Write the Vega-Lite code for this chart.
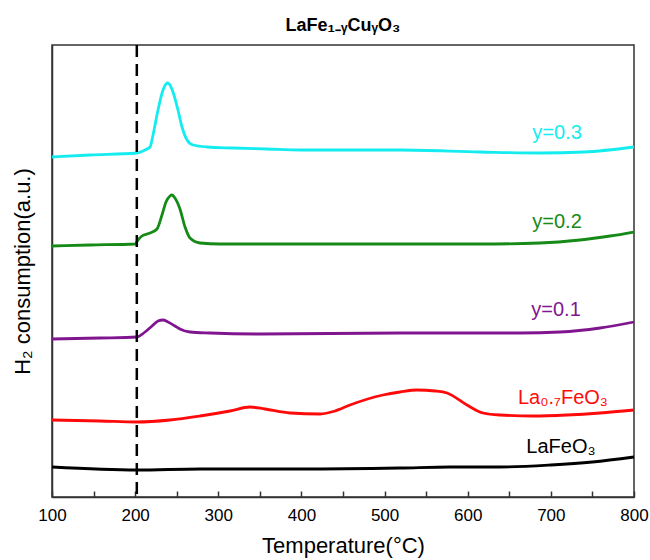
{
  "$schema": "https://vega.github.io/schema/vega-lite/v6.json",
  "width": 582,
  "height": 452,
  "autosize": {"type": "none"},
  "padding": {"left": 52, "top": 45, "right": 16, "bottom": 63},
  "title": {"text": "LaFe₁₋ᵧCuᵧO₃", "font": "Liberation Sans", "fontSize": 18, "fontWeight": "bold", "color": "#000", "offset": 9, "anchor": "middle"},
  "config": {
    "view": {"stroke": "#333", "strokeWidth": 1.5},
    "axis": {"grid": false, "labelFont": "Liberation Sans", "titleFont": "Liberation Sans", "labelColor": "#000", "titleColor": "#000", "domainColor": "#333", "domainWidth": 1.5, "tickColor": "#333", "tickWidth": 1.5, "titleFontWeight": "normal"}
  },
  "datasets": {
    "curves": [
      {"sample": "y=0.3", "temperature": 100, "signal": 340},
      {"sample": "y=0.3", "temperature": 145.7, "signal": 342},
      {"sample": "y=0.3", "temperature": 202.2, "signal": 344},
      {"sample": "y=0.3", "temperature": 211.9, "signal": 347},
      {"sample": "y=0.3", "temperature": 217.9, "signal": 350},
      {"sample": "y=0.3", "temperature": 221.5, "signal": 362},
      {"sample": "y=0.3", "temperature": 227.5, "signal": 387},
      {"sample": "y=0.3", "temperature": 233.5, "signal": 407},
      {"sample": "y=0.3", "temperature": 237.1, "signal": 413},
      {"sample": "y=0.3", "temperature": 239.5, "signal": 414},
      {"sample": "y=0.3", "temperature": 241.9, "signal": 412},
      {"sample": "y=0.3", "temperature": 245.5, "signal": 405},
      {"sample": "y=0.3", "temperature": 251.5, "signal": 387},
      {"sample": "y=0.3", "temperature": 256.4, "signal": 370},
      {"sample": "y=0.3", "temperature": 262.4, "signal": 357},
      {"sample": "y=0.3", "temperature": 269.6, "signal": 352},
      {"sample": "y=0.3", "temperature": 286.4, "signal": 350},
      {"sample": "y=0.3", "temperature": 317.7, "signal": 349},
      {"sample": "y=0.3", "temperature": 358.6, "signal": 348},
      {"sample": "y=0.3", "temperature": 398.3, "signal": 347},
      {"sample": "y=0.3", "temperature": 518.6, "signal": 347},
      {"sample": "y=0.3", "temperature": 614.8, "signal": 345},
      {"sample": "y=0.3", "temperature": 686.9, "signal": 344},
      {"sample": "y=0.3", "temperature": 740.0, "signal": 345},
      {"sample": "y=0.3", "temperature": 800, "signal": 350},

      {"sample": "y=0.2", "temperature": 100, "signal": 251},
      {"sample": "y=0.2", "temperature": 145.7, "signal": 252},
      {"sample": "y=0.2", "temperature": 199.8, "signal": 253},
      {"sample": "y=0.2", "temperature": 203.4, "signal": 257},
      {"sample": "y=0.2", "temperature": 208.2, "signal": 261},
      {"sample": "y=0.2", "temperature": 217.9, "signal": 264},
      {"sample": "y=0.2", "temperature": 226.3, "signal": 268},
      {"sample": "y=0.2", "temperature": 232.3, "signal": 282},
      {"sample": "y=0.2", "temperature": 237.1, "signal": 295},
      {"sample": "y=0.2", "temperature": 241.9, "signal": 301},
      {"sample": "y=0.2", "temperature": 244.3, "signal": 302},
      {"sample": "y=0.2", "temperature": 247.9, "signal": 299},
      {"sample": "y=0.2", "temperature": 253.9, "signal": 288},
      {"sample": "y=0.2", "temperature": 260.0, "signal": 270},
      {"sample": "y=0.2", "temperature": 266.0, "signal": 259},
      {"sample": "y=0.2", "temperature": 278.0, "signal": 254},
      {"sample": "y=0.2", "temperature": 302.0, "signal": 253},
      {"sample": "y=0.2", "temperature": 398.3, "signal": 253},
      {"sample": "y=0.2", "temperature": 518.6, "signal": 253},
      {"sample": "y=0.2", "temperature": 614.8, "signal": 253},
      {"sample": "y=0.2", "temperature": 686.9, "signal": 254},
      {"sample": "y=0.2", "temperature": 735.0, "signal": 257},
      {"sample": "y=0.2", "temperature": 771.1, "signal": 261},
      {"sample": "y=0.2", "temperature": 800, "signal": 265},

      {"sample": "y=0.1", "temperature": 100, "signal": 158},
      {"sample": "y=0.1", "temperature": 157.7, "signal": 159},
      {"sample": "y=0.1", "temperature": 202.2, "signal": 160},
      {"sample": "y=0.1", "temperature": 211.9, "signal": 165},
      {"sample": "y=0.1", "temperature": 220.3, "signal": 171},
      {"sample": "y=0.1", "temperature": 227.5, "signal": 176},
      {"sample": "y=0.1", "temperature": 233.5, "signal": 177},
      {"sample": "y=0.1", "temperature": 239.5, "signal": 175},
      {"sample": "y=0.1", "temperature": 247.9, "signal": 171},
      {"sample": "y=0.1", "temperature": 253.9, "signal": 168},
      {"sample": "y=0.1", "temperature": 266.0, "signal": 165},
      {"sample": "y=0.1", "temperature": 290.0, "signal": 164},
      {"sample": "y=0.1", "temperature": 350.2, "signal": 163},
      {"sample": "y=0.1", "temperature": 518.6, "signal": 164},
      {"sample": "y=0.1", "temperature": 662.9, "signal": 164},
      {"sample": "y=0.1", "temperature": 711.0, "signal": 165},
      {"sample": "y=0.1", "temperature": 759.1, "signal": 169},
      {"sample": "y=0.1", "temperature": 800, "signal": 175},

      {"sample": "La₀.₇FeO₃", "temperature": 100, "signal": 77},
      {"sample": "La₀.₇FeO₃", "temperature": 157.7, "signal": 76},
      {"sample": "La₀.₇FeO₃", "temperature": 202.2, "signal": 75},
      {"sample": "La₀.₇FeO₃", "temperature": 241.9, "signal": 77},
      {"sample": "La₀.₇FeO₃", "temperature": 278.0, "signal": 81},
      {"sample": "La₀.₇FeO₃", "temperature": 314.1, "signal": 86},
      {"sample": "La₀.₇FeO₃", "temperature": 338.1, "signal": 90},
      {"sample": "La₀.₇FeO₃", "temperature": 356.2, "signal": 88},
      {"sample": "La₀.₇FeO₃", "temperature": 386.3, "signal": 84},
      {"sample": "La₀.₇FeO₃", "temperature": 422.4, "signal": 83},
      {"sample": "La₀.₇FeO₃", "temperature": 440.4, "signal": 86},
      {"sample": "La₀.₇FeO₃", "temperature": 458.4, "signal": 92},
      {"sample": "La₀.₇FeO₃", "temperature": 498.1, "signal": 102},
      {"sample": "La₀.₇FeO₃", "temperature": 518.6, "signal": 105},
      {"sample": "La₀.₇FeO₃", "temperature": 539.0, "signal": 107},
      {"sample": "La₀.₇FeO₃", "temperature": 560.7, "signal": 106},
      {"sample": "La₀.₇FeO₃", "temperature": 575.1, "signal": 104},
      {"sample": "La₀.₇FeO₃", "temperature": 599.1, "signal": 92},
      {"sample": "La₀.₇FeO₃", "temperature": 618.4, "signal": 84},
      {"sample": "La₀.₇FeO₃", "temperature": 638.8, "signal": 82},
      {"sample": "La₀.₇FeO₃", "temperature": 678.5, "signal": 81},
      {"sample": "La₀.₇FeO₃", "temperature": 719.4, "signal": 82},
      {"sample": "La₀.₇FeO₃", "temperature": 759.1, "signal": 84},
      {"sample": "La₀.₇FeO₃", "temperature": 800, "signal": 87},

      {"sample": "LaFeO₃", "temperature": 100, "signal": 30},
      {"sample": "LaFeO₃", "temperature": 202.2, "signal": 27},
      {"sample": "LaFeO₃", "temperature": 278.0, "signal": 28},
      {"sample": "LaFeO₃", "temperature": 398.3, "signal": 28},
      {"sample": "LaFeO₃", "temperature": 518.6, "signal": 29},
      {"sample": "LaFeO₃", "temperature": 578.7, "signal": 30},
      {"sample": "LaFeO₃", "temperature": 638.8, "signal": 30},
      {"sample": "LaFeO₃", "temperature": 700.0, "signal": 32},
      {"sample": "LaFeO₃", "temperature": 750.0, "signal": 35},
      {"sample": "LaFeO₃", "temperature": 800, "signal": 40}
    ],
    "labels": [
      {"sample": "y=0.3", "temperature": 707.4, "signal": 364},
      {"sample": "y=0.2", "temperature": 707.4, "signal": 275},
      {"sample": "y=0.1", "temperature": 706.2, "signal": 187},
      {"sample": "La₀.₇FeO₃", "temperature": 714.6, "signal": 99},
      {"sample": "LaFeO₃", "temperature": 712.2, "signal": 50}
    ],
    "marker": [
      {"temperature": 202}
    ]
  },
  "layer": [
    {
      "data": {"name": "curves"},
      "mark": {"type": "line", "strokeWidth": 2.8, "interpolate": "monotone"},
      "encoding": {
        "x": {
          "field": "temperature", "type": "quantitative",
          "scale": {"domain": [100, 800], "nice": false},
          "axis": {
            "title": "Temperature(°C)", "titleFontSize": 22, "titlePadding": 12,
            "values": [100, 150, 200, 250, 300, 350, 400, 450, 500, 550, 600, 650, 700, 750, 800],
            "labelExpr": "datum.value % 100 === 0 ? datum.label : ''",
            "labelFontSize": 17, "labelPadding": 16,
            "tickSize": -6,
            "labelFlush": false, "labelOverlap": false
          }
        },
        "y": {
          "field": "signal", "type": "quantitative",
          "scale": {"domain": [0, 452], "nice": false, "zero": false},
          "axis": {"title": "H₂ consumption(a.u.)", "titleFontSize": 22, "labels": false, "ticks": false, "titlePadding": 18}
        },
        "color": {
          "field": "sample", "type": "nominal",
          "scale": {"domain": ["y=0.3", "y=0.2", "y=0.1", "La₀.₇FeO₃", "LaFeO₃"], "range": ["#14ecf0", "#168a16", "#80168f", "#ff0a0a", "#000000"]},
          "legend": null
        },
        "detail": {"field": "sample"}
      }
    },
    {
      "data": {"name": "marker"},
      "mark": {"type": "rule", "strokeWidth": 2.5, "strokeDash": [12, 7], "color": "#000"},
      "encoding": {
        "x": {"field": "temperature", "type": "quantitative"}
      }
    },
    {
      "data": {"name": "labels"},
      "mark": {"type": "text", "font": "Liberation Sans", "fontSize": 20, "align": "center", "baseline": "middle"},
      "encoding": {
        "x": {"field": "temperature", "type": "quantitative"},
        "y": {"field": "signal", "type": "quantitative"},
        "text": {"field": "sample"},
        "color": {"field": "sample", "type": "nominal"}
      }
    }
  ]
}
